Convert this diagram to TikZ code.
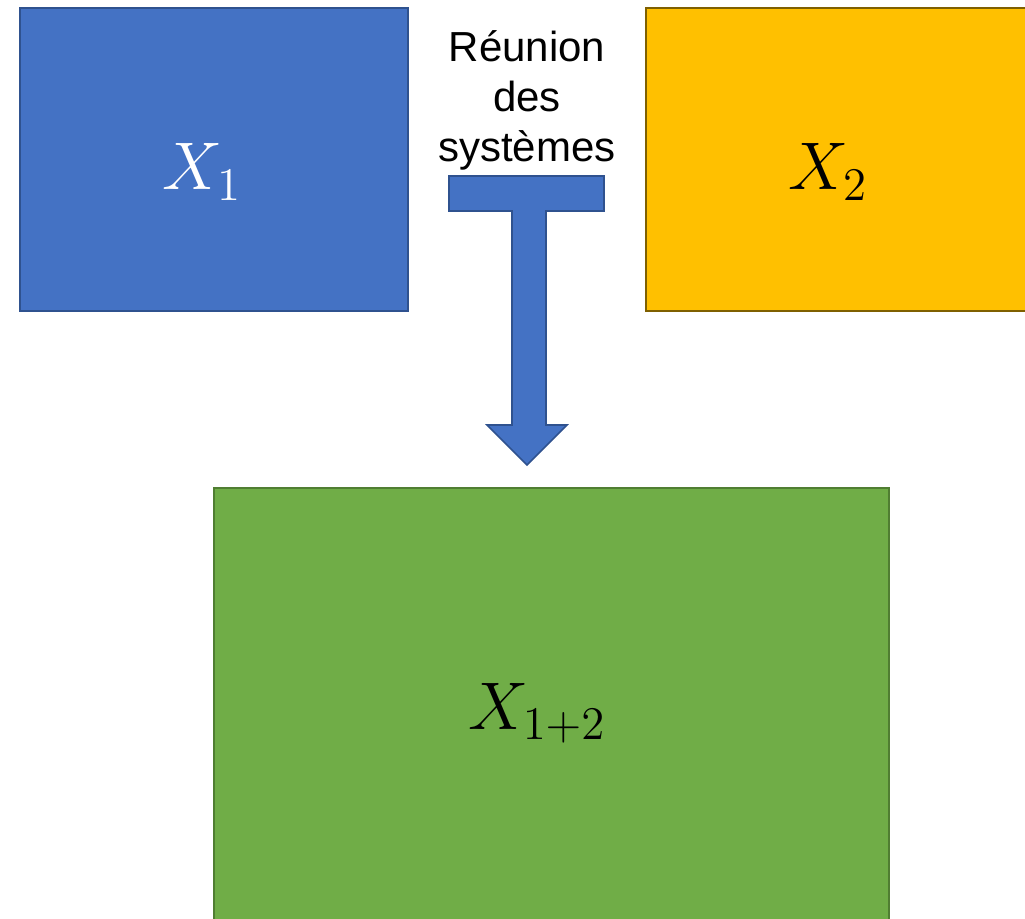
\documentclass[tikz,border=0pt]{standalone}
\usepackage{graphicx}
\usepackage{fontspec}
\newfontfamily\labelfont{Liberation Sans}
\definecolor{boxblue}{HTML}{4472C4}
\definecolor{blueedge}{HTML}{2F528F}
\definecolor{boxyellow}{HTML}{FFC000}
\definecolor{yellowedge}{HTML}{7F6000}
\definecolor{boxgreen}{HTML}{70AD47}
\definecolor{greenedge}{HTML}{507E32}
\newcommand{\bigmath}[1]{\scalebox{3.25}{\huge$#1$}}
\tikzset{
  sysbox/.style={rectangle, inner sep=0pt, line width=1.6pt},
  mathlabel/.style={inner sep=0pt},
}
\begin{document}
\begin{tikzpicture}[x=1pt,y=-1pt]
\useasboundingbox (0,0) rectangle (1025,918);
\clip (0,0) rectangle (1025,918);
% boxes
\node[sysbox, fill=boxblue, draw=blueedge, minimum width=388pt, minimum height=303pt] (b1) at (214,159.5) {};
\node[sysbox, fill=boxyellow, draw=yellowedge, minimum width=394pt, minimum height=303pt] (b2) at (843,159.5) {};
\node[sysbox, fill=boxgreen, draw=greenedge, minimum width=675pt, minimum height=452pt] (b3) at (551.5,714) {};
% labels
\node[mathlabel, text=white] (l1) at (202,172) {\bigmath{X_1}};
\node[mathlabel, text=black] (l2) at (828,172) {\bigmath{X_2}};
\node[mathlabel, text=black] (l3) at (537,713) {\bigmath{X_{1+2}}};
\node[inner sep=0pt, align=center, font=\labelfont\fontsize{42}{50}\selectfont] (t) at (527,100) {Réunion\\des\\systèmes};
% T-shaped arrow
\draw[line width=1.6pt, draw=blueedge, fill=boxblue, line join=miter]
  (449,176) -- (604,176) -- (604,211) -- (546,211) -- (546,425) -- (567,425)
  -- (527,465) -- (487,425) -- (512,425) -- (512,211) -- (449,211) -- cycle;
\end{tikzpicture}
\end{document}
